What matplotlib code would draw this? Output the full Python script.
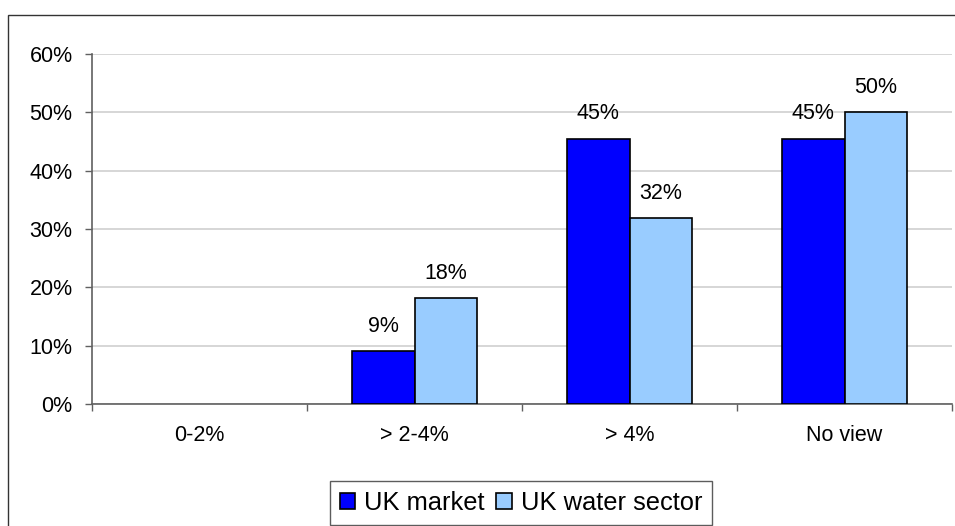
import matplotlib
matplotlib.use("Agg")
import matplotlib.pyplot as plt
from matplotlib.patches import Rectangle, Patch
from matplotlib.ticker import FuncFormatter
import numpy as np

categories = ["0-2%", "> 2-4%", "> 4%", "No view"]
uk_market = [0, 9.09, 45.45, 45.45]
uk_water = [0, 18.18, 31.82, 50.0]
series_names = ["UK market", "UK water sector"]
series_colors = ["#0000FF", "#99CCFF"]
yticks = [0, 10, 20, 30, 40, 50, 60]

plt.rcParams['font.family'] = ['Liberation Sans', 'DejaVu Sans']

fig = plt.figure(figsize=(9.55, 5.26), dpi=100)
fig.patch.set_facecolor("white")

# outer frame round the whole chart
fig.patches.append(Rectangle((8 / 955, -0.1), 1.2, 0.1 + 1 - 14.5 / 526,
                             transform=fig.transFigure, fill=False,
                             edgecolor="#333333", linewidth=1.0))

ax = fig.add_axes([92 / 955, 1 - 404 / 526, (952 - 92) / 955, (404 - 54) / 526])

x = np.arange(len(categories))
w = 0.29
b1 = ax.bar(x - w / 2, uk_market, w, color=series_colors[0], edgecolor="black", linewidth=1.2, zorder=3)
b2 = ax.bar(x + w / 2, uk_water, w, color=series_colors[1], edgecolor="black", linewidth=1.2, zorder=3)

# value labels (skip the empty category); empty bars get no outline
for bars, vals in ((b1, uk_market), (b2, uk_water)):
    for rect, v in zip(bars, vals):
        if v <= 0:
            rect.set_linewidth(0)
            continue
        ax.annotate(f"{v:.0f}%", (rect.get_x() + rect.get_width() / 2, v),
                    xytext=(0, 14), textcoords="offset points",
                    ha="center", va="baseline", fontsize=15.5)

ax.set_xlim(-0.5, len(categories) - 0.5)
ax.set_ylim(0, 60)
ax.set_yticks(yticks)
ax.yaxis.set_major_formatter(FuncFormatter(lambda v, p: f"{v:.0f}%"))
ax.yaxis.grid(True, color="#d0d0d0", linewidth=1.2, zorder=0)
ax.set_axisbelow(True)

ax.set_xticks(x)
ax.set_xticklabels(categories)
ax.set_xticks(np.arange(-0.5, len(categories)), minor=True)
ax.tick_params(axis="x", which="major", length=0, pad=15, labelsize=15.5)
ax.tick_params(axis="x", which="minor", length=5, color="#606060", width=1)
ax.tick_params(axis="y", length=5, pad=9, color="#606060", width=1, labelsize=15.5)

for s in ("top", "right"):
    ax.spines[s].set_visible(False)
for s in ("left", "bottom"):
    ax.spines[s].set_color("#606060")
    ax.spines[s].set_linewidth(1.2)

handles = [Patch(facecolor=c, edgecolor="black", linewidth=1.2) for c in series_colors]
leg = fig.legend(handles, series_names, loc="upper center",
                 bbox_to_anchor=(521 / 955, 1 - 481 / 526), ncol=2,
                 fontsize=18.4, frameon=True, fancybox=False, shadow=False,
                 handlelength=0.6, handleheight=0.6, handletextpad=0.35,
                 columnspacing=0.45, borderpad=0.4, borderaxespad=0)
leg.get_frame().set_edgecolor("#333333")
leg.get_frame().set_linewidth(1.0)

fig.savefig("out.png", dpi=100)
